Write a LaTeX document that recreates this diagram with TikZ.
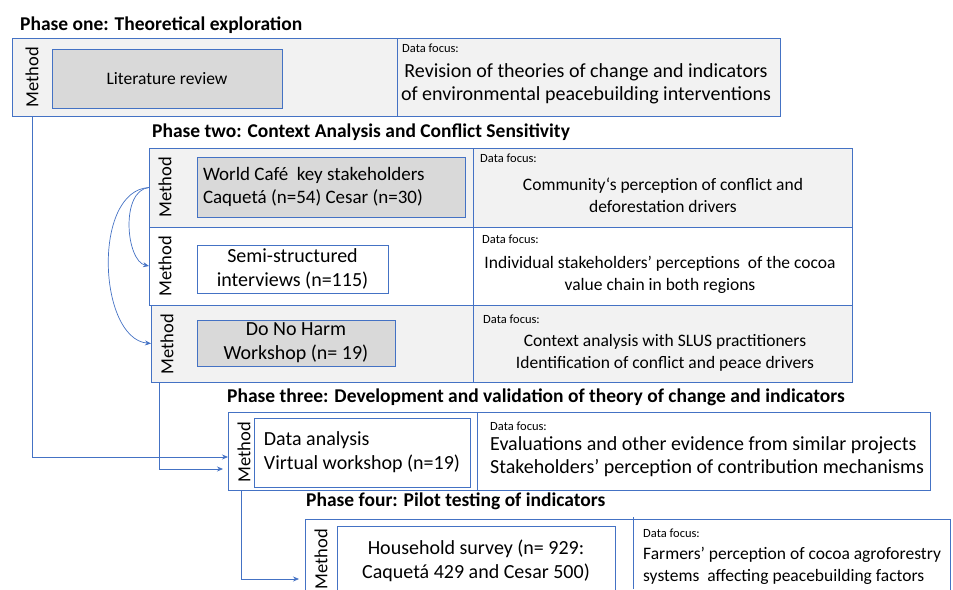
\documentclass[tikz,border=0pt]{standalone}
\usepackage{fontspec}
\setmainfont{Carlito}
\usetikzlibrary{arrows.meta,positioning,calc}
\definecolor{FrameBlue}{HTML}{4472C4}
\definecolor{RowGrey}{HTML}{F2F2F2}
\definecolor{CellGrey}{HTML}{D9D9D9}
\tikzset{>=Stealth,
 phase/.style={font=\fontsize{19.5}{22}\selectfont\bfseries,anchor=base west,inner sep=0},
 row/.style={draw=FrameBlue,line width=0.8pt,anchor=north west,inner sep=0,outer sep=0},
 cell/.style={draw=FrameBlue,line width=0.8pt,anchor=north west,inner sep=0,outer sep=0,
  font=\fontsize{20}{24}\selectfont,align=center},
 method/.style={rotate=90,font=\fontsize{18.5}{20}\selectfont,inner sep=0},
 focus/.style={font=\fontsize{12.5}{14}\selectfont,anchor=base west,inner sep=0},
 body/.style={font=\fontsize{17.5}{22}\selectfont,align=center,inner sep=0},
 bigbody/.style={body,font=\fontsize{20}{23}\selectfont},
 split/.style={draw=FrameBlue,line width=0.8pt},
 flow/.style={draw=FrameBlue,line width=0.7pt,->,>={Stealth[length=6pt,width=5pt]}}}
\begin{document}
\begin{tikzpicture}[x=1pt,y=-1pt]
\useasboundingbox (0,0) rectangle (953,589);
% phase one
\node[phase] (t1) at (20,30) {Phase one: Theoretical exploration};
\node[row,fill=RowGrey,minimum width=768pt,minimum height=78pt] (one) at (12,38) {};
\node[method] (m1) at (32,77) {Method};
\node[cell,fill=CellGrey,font=\fontsize{17.5}{22}\selectfont,minimum width=230pt,minimum height=59pt] (lit) at (52,49) {Literature review};
\draw[split] (397,38) -- (397,116);
\node[focus] (f1) at (402,52) {Data focus:};
\node[bigbody] (d1) at (586,84) {Revision of theories of change and indicators\\of environmental peacebuilding interventions};
% phase two
\node[phase] (t2) at (152,137) {Phase two: Context Analysis and Conflict Sensitivity};
\node[row,fill=RowGrey,minimum width=703pt,minimum height=79pt] (ctxa) at (149,148) {};
\node[row,fill=white,minimum width=703pt,minimum height=78pt] (ctxb) at (149,227) {};
\node[row,fill=RowGrey,minimum width=701pt,minimum height=77pt] (ctxc) at (151,305) {};
\node[method] (m2a) at (165,187) {Method};
\node[method] (m2b) at (165,266) {Method};
\node[method] (m2c) at (167,344) {Method};
\node[cell,fill=CellGrey,minimum width=268pt,minimum height=60pt] (cafe) at (197,157) {};
\node[cell,draw=none,font=\fontsize{19}{23}\selectfont,align=left,anchor=west] (cafet) at (203,187)
 {World Café\ \ key stakeholders\\Caquetá (n=54) Cesar (n=30)};
\node[cell,fill=white,minimum width=191pt,minimum height=48pt] (semi) at (197,245) {Semi-structured\\interviews (n=115)};
\node[cell,fill=CellGrey,minimum width=198pt,minimum height=46pt] (dnh) at (197,320) {Do No Harm\\Workshop (n= 19)};
\draw[split] (473,148) -- (473,382);
\node[focus] (f2a) at (480,162) {Data focus:};
\node[focus] (f2b) at (482,243) {Data focus:};
\node[focus] (f2c) at (483,323) {Data focus:};
\node[body] (d2a) at (663,195) {Community‘s perception of conflict and\\deforestation drivers};
\node[body] (d2b) at (660,275) {Individual stakeholders’ perceptions\ \ of the cocoa\\value chain in both regions};
\node[body] (d2c) at (665,353) {Context analysis with SLUS practitioners\\Identification of conflict and peace drivers};
% phase three
\node[phase] (t3) at (227,402) {Phase three: Development and validation of theory of change and indicators};
\node[row,fill=white,minimum width=702pt,minimum height=78pt] (three) at (228,412) {};
\node[method] (m3) at (244,452) {Method};
\node[cell,fill=white,minimum width=216pt,minimum height=69pt,align=left] (ana) at (254,418) {Data analysis\\Virtual workshop (n=19)};
\draw[split] (477,412) -- (477,490);
\node[focus] (f3) at (490,430) {Data focus:};
\node[bigbody,align=left,anchor=west] (d3) at (490,457) {Evaluations and other evidence from similar projects\\Stakeholders’ perception of contribution mechanisms};
% phase four
\node[phase] (t4) at (306,506) {Phase four: Pilot testing of indicators};
\node[row,fill=white,minimum width=645pt,minimum height=90pt] (four) at (305,519) {};
\node[method] (m4) at (321,559) {Method};
\node[cell,fill=white,minimum width=278pt,minimum height=80pt] (hh) at (337,526) {};
\node[cell,draw=none,anchor=center] (hht) at (476,561) {Household survey (n= 929:\\Caquetá 429 and Cesar 500)};
\draw[split] (633,517) -- (633,589);
\node[focus] (f4) at (643,537) {Data focus:};
\node[body,align=left,anchor=west] (d4) at (643,566) {Farmers’ perception of cocoa agroforestry\\systems\ \ affecting peacebuilding factors};
% links between the phases
\draw[flow] ([xshift=20pt]one.south west) |- ([yshift=-6pt]three.west);
\draw[flow,shorten >=5pt] ([xshift=8pt]ctxc.south west) |- ([yshift=-18pt]three.west);
\draw[flow,shorten >=6pt] ([xshift=13pt]three.south west) |- ([yshift=-60pt]four.north west);
\draw[flow] (ctxa.west) .. controls +(-29,3) and +(-23,-5) .. (ctxb.west);
\draw[flow] (ctxa.west) .. controls +(-57,3) and +(-53,-5) .. (ctxc.west);
\end{tikzpicture}
\end{document}
